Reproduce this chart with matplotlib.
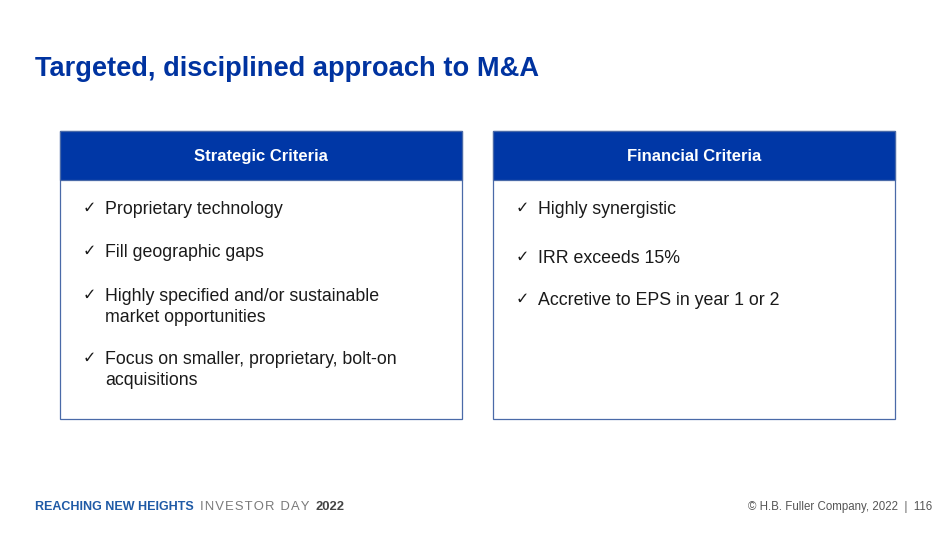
import matplotlib.pyplot as plt
from matplotlib.patches import Rectangle

W, H = 950, 534
BLUE = '#0033a0'
HEAD_BLUE = '#0037a6'
TEXT = '#1a1a1a'

title = 'Targeted, disciplined approach to M&A'
panel_titles = ['Strategic Criteria', 'Financial Criteria']
panel_items = [
    ['Proprietary technology',
     'Fill geographic gaps',
     'Highly specified and/or sustainable\nmarket opportunities',
     'Focus on smaller, proprietary, bolt-on\nacquisitions'],
    ['Highly synergistic',
     'IRR exceeds 15%',
     'Accretive to EPS in year 1 or 2'],
]
# centre of the first line of each bullet (pixels from top)
item_rows = [[208, 251, 295, 358], [208, 257, 299]]
panel_left = [60, 493]
footer_parts = ['REACHING NEW HEIGHTS', 'INVESTOR DAY', '2022']
footer_right = '\u00a9 H.B. Fuller Company, 2022  |  116'

plt.rcParams['font.family'] = ['Liberation Sans', 'DejaVu Sans']

fig = plt.figure(figsize=(W / 100, H / 100), dpi=100)
ax = fig.add_axes([0, 0, 1, 1])
ax.set_xlim(0, W)
ax.set_ylim(H, 0)
ax.axis('off')

ax.text(35, 69, title, fontsize=19.6, fontweight='bold', color=BLUE,
        va='center', ha='left')

box_w, box_top, box_bot, head_h = 402, 131, 419, 49
for x0, name, items, rows in zip(panel_left, panel_titles, panel_items, item_rows):
    ax.add_patch(Rectangle((x0, box_top), box_w, box_bot - box_top,
                           facecolor='white', edgecolor='#4a6aa8', lw=0.9))
    ax.add_patch(Rectangle((x0, box_top), box_w, head_h,
                           facecolor=HEAD_BLUE, edgecolor='#4a6aa8', lw=0.9))
    ax.text(x0 + box_w / 2, box_top + head_h / 2 + 1, name, color='white',
            fontsize=12, fontweight='bold', ha='center', va='center')
    for txt, y in zip(items, rows):
        ax.text(x0 + 23, y, '\u2713', fontsize=11.5, color=TEXT,
                ha='left', va='center', family=['DejaVu Sans'])
        ax.text(x0 + 45, y - 7, txt, fontsize=12.8, color=TEXT, ha='left',
                va='top', linespacing=1.3)

# footer, pieces laid out one after another
fig.canvas.draw()
r = fig.canvas.get_renderer()
styles = [dict(fontsize=9.0, fontweight='bold', color='#1f5aa6'),
          dict(fontsize=9.4, color='#7a7a7a'),
          dict(fontsize=9.4, fontweight='bold', color='#444444')]
gaps = [6, 6, 0]
x = 35
for i, (part, st) in enumerate(zip(footer_parts, styles)):
    s = '\u200a'.join(part) if i == 1 else part
    t = ax.text(x, 507, s, ha='left', va='center', **st)
    bb = t.get_window_extent(r)
    x = x + bb.width + gaps[i]
ax.text(932, 507, footer_right, fontsize=8.3, color='#555555',
        ha='right', va='center')

fig.savefig('out.png', dpi=100, facecolor='white')
